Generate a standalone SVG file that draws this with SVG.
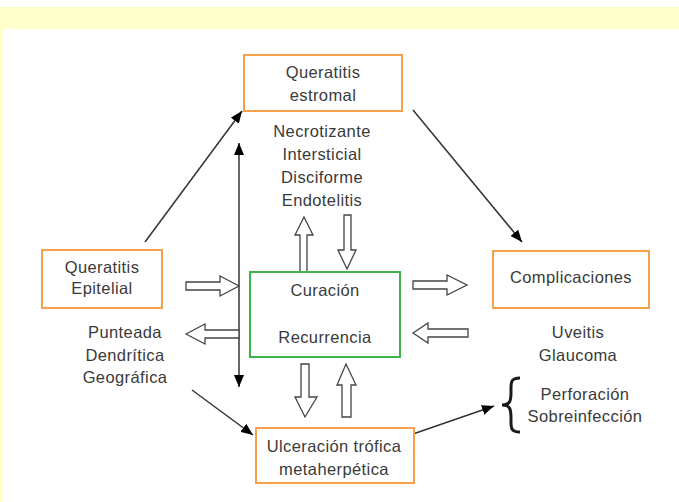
<svg xmlns="http://www.w3.org/2000/svg" width="679" height="502" viewBox="0 0 679 502">
<defs>
<style>
.bg{fill:#ffffcc}
.box{fill:#fff;stroke:#f7a04a;stroke-width:2}
.gbox{fill:#fff;stroke:#3cb44b;stroke-width:2}
.t{font-family:"Liberation Sans",Arial,sans-serif;font-size:16.5px;letter-spacing:0.4px;fill:#3a3a3a;text-anchor:middle}
.ln{stroke:#333;stroke-width:1.5;fill:none}
.ha{fill:#fff;stroke:#444;stroke-width:1.3;stroke-linejoin:miter}
</style>
<marker id="ah" viewBox="0 0 12 10" refX="12" refY="5" markerWidth="12" markerHeight="10" markerUnits="userSpaceOnUse" orient="auto-start-reverse">
<path d="M0,0 L12,5 L0,10 Z" fill="#000"/>
</marker>
</defs>
<rect width="679" height="502" fill="#fff"/>
<rect class="bg" x="0" y="7" width="679" height="22"/>
<rect class="bg" x="0" y="29" width="3" height="473"/>

<g id="connectors">
<line class="ln" x1="145" y1="242" x2="242" y2="111" marker-end="url(#ah)"/>
<line class="ln" x1="239" y1="143" x2="239" y2="387" marker-start="url(#ah)" marker-end="url(#ah)"/>
<line class="ln" x1="413" y1="110" x2="522" y2="242" marker-end="url(#ah)"/>
<line class="ln" x1="192" y1="390" x2="253" y2="435" marker-end="url(#ah)"/>
<line class="ln" x1="413" y1="434" x2="494" y2="406" marker-end="url(#ah)"/>
<polygon class="ha" points="186,282 220,282 220,276 239,286 220,296 220,290 186,290"/>
<polygon class="ha" points="186,334 205,324 205,330 239,330 239,338 205,338 205,344"/>
<polygon class="ha" points="413,281 447,281 447,275 467,285 447,295 447,289 413,289"/>
<polygon class="ha" points="413,333 428,323 428,329 468,329 468,337 428,337 428,343"/>
<polygon class="ha" points="304,217 313,235 307,235 307,272 300,272 300,235 295,235"/>
<polygon class="ha" points="344,215 351,215 351,250 356,250 347,269 338,250 344,250"/>
<polygon class="ha" points="301,364 309,364 309,397 317,397 305,417 295,397 301,397"/>
<polygon class="ha" points="346,364 356,385 351,385 351,417 342,417 342,385 337,385"/>
</g>

<g id="n-estromal">
<rect class="box" x="244" y="55" width="158" height="56"/>
<text class="t" x="323" y="78">Queratitis</text>
<text class="t" x="323" y="101">estromal</text>
</g>
<g id="n-estromal-list">
<text class="t" x="322" y="137">Necrotizante</text>
<text class="t" x="322" y="160">Intersticial</text>
<text class="t" x="322" y="183">Disciforme</text>
<text class="t" x="322" y="206">Endotelitis</text>
</g>
<g id="n-epitelial">
<rect class="box" x="42" y="250" width="120" height="58"/>
<text class="t" x="102" y="273">Queratitis</text>
<text class="t" x="102" y="294">Epitelial</text>
</g>
<g id="n-epitelial-list">
<text class="t" x="125" y="338">Punteada</text>
<text class="t" x="125" y="361">Dendrítica</text>
<text class="t" x="125" y="383">Geográfica</text>
</g>
<g id="n-curacion">
<rect class="gbox" x="250" y="272" width="150" height="85"/>
<text class="t" x="325" y="296">Curación</text>
<text class="t" x="325" y="343">Recurrencia</text>
</g>
<g id="n-complicaciones">
<rect class="box" x="493" y="251" width="156" height="57"/>
<text class="t" x="571" y="283">Complicaciones</text>
</g>
<g id="n-compl-list">
<text class="t" x="578" y="338">Uveitis</text>
<text class="t" x="578" y="361">Glaucoma</text>
</g>
<g id="n-perforacion">
<path d="M520,378 C510,378 511,383 511,392 C511,401 510,405 502,405 C510,405 511,409 511,418 C511,427 510,432 520,432" fill="none" stroke="#1a1a1a" stroke-width="3"/>
<text class="t" x="585" y="400">Perforación</text>
<text class="t" x="585" y="422">Sobreinfección</text>
</g>
<g id="n-ulceracion">
<rect class="box" x="256" y="428" width="158" height="55"/>
<text class="t" x="334" y="452">Ulceración trófica</text>
<text class="t" x="334" y="475">metaherpética</text>
</g>
</svg>
